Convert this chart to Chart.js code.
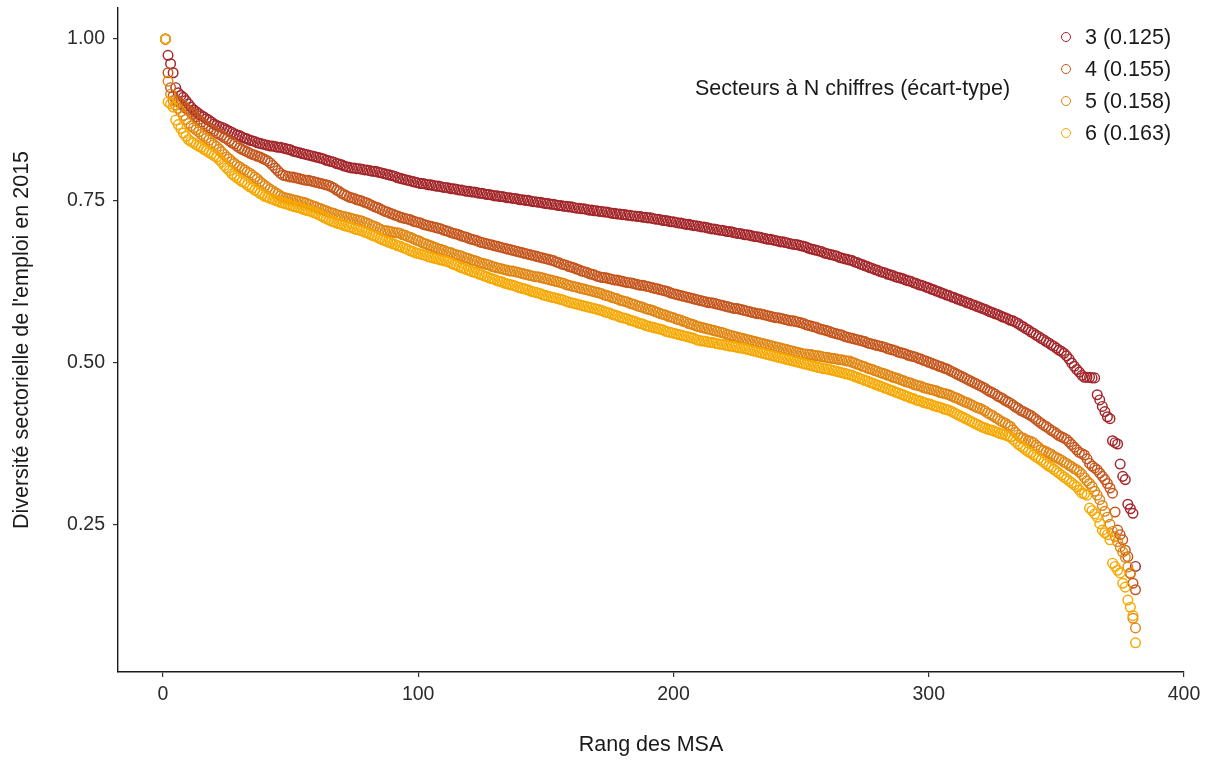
<!DOCTYPE html>
<html lang="fr">
<head>
<meta charset="utf-8">
<title>Diversité sectorielle de l'emploi</title>
<script src="https://cdn.jsdelivr.net/npm/chart.js@4.4.1/dist/chart.umd.min.js"></script>
<style>
  html, body { margin: 0; padding: 0; background: #fff; }
  #wrap { position: relative; width: 1214px; height: 760px; font-family: "Liberation Sans", Arial, sans-serif; }
  #legend-title { position: absolute; left: 695px; top: 76px; font-size: 21.5px; color: #1a1a1a; white-space: nowrap; }
  .leg { position: absolute; left: 1061px; height: 26px; line-height: 26px; font-size: 21.5px; color: #1a1a1a; white-space: nowrap; }
  .leg i { display: inline-block; width: 8px; height: 8px; border-radius: 50%; border: 1.4px solid; margin-right: 14px; vertical-align: 2px; }
</style>
</head>
<body>
<div id="wrap">
  <canvas id="scatterChart"></canvas>
  <div id="legend-title">Secteurs à N chiffres (écart-type)</div>
  <div id="legend"></div>
</div>
<script>
// series labels and colours (3 to 6 digit sectors)
const seriesLabels = ['3 (0.125)', '4 (0.155)', '5 (0.158)', '6 (0.163)'];
const seriesColors = ['#a3262a', '#c4561d', '#e08612', '#f7a800'];
const xTicks = [0, 100, 200, 300, 400];
const yTicks = [0.25, 0.50, 0.75, 1.00];

// diversity index by MSA rank (rank 1 first)
const s3 = [1.000,0.975,0.962,0.948,0.925,0.917,0.913,0.910,0.905,0.900,
0.895,0.891,0.888,0.885,0.882,0.880,0.877,0.875,0.872,0.869,
0.867,0.865,0.864,0.862,0.860,0.858,0.856,0.854,0.852,0.851,
0.849,0.847,0.846,0.844,0.843,0.842,0.840,0.839,0.838,0.837,
0.836,0.835,0.835,0.834,0.833,0.833,0.832,0.831,0.830,0.829,
0.827,0.826,0.825,0.824,0.823,0.822,0.821,0.820,0.819,0.818,
0.817,0.816,0.815,0.813,0.812,0.811,0.810,0.808,0.807,0.806,
0.804,0.803,0.802,0.801,0.801,0.800,0.800,0.799,0.798,0.798,
0.797,0.796,0.796,0.795,0.794,0.793,0.792,0.791,0.790,0.789,
0.788,0.786,0.785,0.784,0.783,0.782,0.781,0.780,0.779,0.778,
0.777,0.777,0.776,0.775,0.775,0.774,0.773,0.773,0.772,0.771,
0.771,0.770,0.769,0.769,0.768,0.767,0.767,0.766,0.765,0.765,
0.764,0.764,0.763,0.762,0.762,0.761,0.760,0.760,0.759,0.758,
0.758,0.757,0.757,0.756,0.755,0.755,0.754,0.754,0.753,0.752,
0.752,0.751,0.751,0.750,0.749,0.749,0.748,0.748,0.747,0.746,
0.746,0.745,0.745,0.744,0.743,0.743,0.742,0.742,0.741,0.741,
0.740,0.739,0.739,0.738,0.738,0.737,0.736,0.736,0.735,0.735,
0.734,0.734,0.733,0.733,0.732,0.731,0.731,0.730,0.730,0.729,
0.729,0.728,0.728,0.727,0.727,0.726,0.726,0.725,0.725,0.724,
0.724,0.723,0.722,0.722,0.721,0.720,0.720,0.719,0.718,0.718,
0.717,0.716,0.716,0.715,0.714,0.714,0.713,0.712,0.712,0.711,
0.710,0.710,0.709,0.708,0.707,0.707,0.706,0.705,0.705,0.704,
0.703,0.703,0.702,0.701,0.700,0.700,0.699,0.698,0.698,0.697,
0.696,0.695,0.695,0.694,0.693,0.692,0.691,0.691,0.690,0.689,
0.688,0.687,0.687,0.686,0.685,0.684,0.683,0.683,0.682,0.681,
0.680,0.679,0.677,0.676,0.675,0.674,0.673,0.672,0.670,0.669,
0.668,0.667,0.666,0.665,0.663,0.662,0.661,0.660,0.659,0.658,
0.656,0.655,0.653,0.652,0.650,0.649,0.647,0.646,0.644,0.643,
0.641,0.640,0.639,0.637,0.636,0.635,0.633,0.632,0.631,0.630,
0.628,0.627,0.626,0.624,0.623,0.621,0.620,0.619,0.617,0.616,
0.614,0.613,0.611,0.610,0.608,0.607,0.605,0.604,0.602,0.601,
0.599,0.598,0.596,0.595,0.593,0.592,0.590,0.589,0.587,0.586,
0.584,0.583,0.581,0.579,0.578,0.576,0.575,0.573,0.571,0.570,
0.568,0.566,0.565,0.563,0.561,0.558,0.556,0.553,0.551,0.548,
0.546,0.543,0.541,0.538,0.536,0.533,0.531,0.528,0.526,0.523,
0.520,0.518,0.515,0.511,0.506,0.500,0.495,0.490,0.486,0.481,
0.478,0.478,0.478,0.477,0.477,0.451,0.443,0.433,0.425,0.417,
0.414,0.380,0.377,0.375,0.344,0.325,0.320,0.282,0.275,0.268,
0.186];

const s4 = [1.000,0.948,0.925,0.912,0.906,0.903,0.900,0.897,0.893,0.890,
0.887,0.884,0.880,0.876,0.872,0.869,0.866,0.863,0.861,0.858,
0.855,0.853,0.851,0.848,0.846,0.843,0.840,0.838,0.835,0.832,
0.830,0.828,0.826,0.824,0.822,0.821,0.819,0.818,0.816,0.814,
0.812,0.809,0.805,0.801,0.797,0.793,0.790,0.789,0.788,0.787,
0.787,0.786,0.785,0.784,0.783,0.782,0.782,0.781,0.780,0.779,
0.778,0.777,0.776,0.775,0.774,0.772,0.770,0.767,0.765,0.762,
0.760,0.758,0.756,0.755,0.754,0.752,0.751,0.750,0.748,0.747,
0.745,0.743,0.741,0.740,0.738,0.736,0.734,0.733,0.731,0.730,
0.728,0.727,0.725,0.724,0.723,0.722,0.721,0.719,0.718,0.717,
0.716,0.714,0.713,0.712,0.711,0.710,0.709,0.708,0.707,0.705,
0.704,0.703,0.701,0.700,0.699,0.698,0.696,0.695,0.694,0.692,
0.691,0.690,0.689,0.687,0.686,0.685,0.684,0.683,0.682,0.681,
0.680,0.679,0.678,0.677,0.676,0.675,0.674,0.673,0.672,0.671,
0.670,0.669,0.668,0.667,0.666,0.665,0.664,0.663,0.662,0.661,
0.660,0.659,0.658,0.656,0.655,0.653,0.652,0.651,0.649,0.648,
0.647,0.645,0.644,0.642,0.641,0.640,0.638,0.637,0.636,0.634,
0.633,0.632,0.632,0.631,0.630,0.629,0.628,0.628,0.627,0.626,
0.625,0.624,0.624,0.623,0.622,0.621,0.620,0.620,0.619,0.618,
0.617,0.616,0.615,0.614,0.613,0.612,0.611,0.610,0.608,0.607,
0.606,0.605,0.604,0.603,0.602,0.601,0.600,0.599,0.598,0.597,
0.596,0.595,0.594,0.593,0.593,0.592,0.591,0.590,0.589,0.588,
0.587,0.586,0.585,0.584,0.584,0.583,0.582,0.581,0.580,0.579,
0.578,0.577,0.576,0.576,0.575,0.574,0.573,0.572,0.571,0.570,
0.570,0.569,0.568,0.567,0.566,0.565,0.565,0.564,0.563,0.562,
0.561,0.559,0.558,0.557,0.556,0.555,0.553,0.552,0.551,0.550,
0.549,0.547,0.546,0.545,0.544,0.543,0.541,0.540,0.539,0.538,
0.537,0.536,0.535,0.534,0.533,0.531,0.530,0.529,0.528,0.527,
0.526,0.525,0.524,0.522,0.521,0.520,0.519,0.517,0.516,0.515,
0.514,0.512,0.511,0.510,0.509,0.507,0.506,0.504,0.503,0.501,
0.500,0.498,0.497,0.495,0.494,0.492,0.491,0.489,0.487,0.485,
0.483,0.481,0.479,0.477,0.475,0.473,0.471,0.469,0.467,0.465,
0.463,0.461,0.458,0.456,0.454,0.452,0.449,0.447,0.445,0.442,
0.440,0.438,0.435,0.432,0.430,0.427,0.425,0.423,0.421,0.419,
0.416,0.413,0.410,0.407,0.404,0.402,0.399,0.396,0.394,0.391,
0.388,0.386,0.384,0.382,0.378,0.374,0.370,0.366,0.362,0.360,
0.358,0.352,0.345,0.341,0.338,0.335,0.330,0.325,0.320,0.314,
0.307,0.299,0.270,0.242,0.235,0.227,0.211,0.201,0.175,0.160,
0.150];

const s5 = [1.000,0.935,0.915,0.905,0.898,0.893,0.888,0.882,0.876,0.870,
0.866,0.863,0.860,0.857,0.853,0.850,0.847,0.844,0.840,0.837,
0.834,0.830,0.826,0.822,0.818,0.815,0.811,0.808,0.805,0.803,
0.800,0.798,0.795,0.793,0.790,0.787,0.784,0.780,0.777,0.774,
0.771,0.768,0.766,0.763,0.761,0.758,0.756,0.755,0.754,0.753,
0.752,0.751,0.750,0.749,0.748,0.747,0.745,0.744,0.742,0.741,
0.739,0.738,0.736,0.735,0.733,0.732,0.731,0.729,0.728,0.727,
0.726,0.725,0.724,0.723,0.722,0.721,0.720,0.719,0.717,0.716,
0.714,0.712,0.711,0.709,0.707,0.705,0.704,0.704,0.703,0.702,
0.701,0.701,0.700,0.698,0.697,0.695,0.694,0.692,0.690,0.689,
0.687,0.685,0.684,0.682,0.681,0.679,0.678,0.676,0.675,0.674,
0.672,0.671,0.670,0.668,0.667,0.666,0.665,0.663,0.662,0.661,
0.659,0.658,0.657,0.655,0.654,0.653,0.652,0.651,0.649,0.648,
0.647,0.646,0.645,0.644,0.643,0.642,0.642,0.641,0.640,0.639,
0.638,0.637,0.636,0.635,0.634,0.633,0.633,0.632,0.631,0.630,
0.629,0.628,0.627,0.626,0.625,0.624,0.623,0.621,0.620,0.619,
0.618,0.617,0.616,0.615,0.614,0.613,0.612,0.611,0.610,0.609,
0.608,0.607,0.605,0.604,0.603,0.601,0.600,0.599,0.597,0.596,
0.595,0.594,0.592,0.591,0.590,0.588,0.587,0.586,0.584,0.583,
0.582,0.581,0.579,0.578,0.576,0.575,0.574,0.572,0.571,0.570,
0.568,0.567,0.566,0.564,0.563,0.561,0.560,0.559,0.557,0.556,
0.555,0.554,0.553,0.552,0.551,0.550,0.549,0.548,0.547,0.546,
0.544,0.543,0.542,0.541,0.540,0.539,0.538,0.537,0.536,0.535,
0.534,0.533,0.532,0.531,0.530,0.529,0.528,0.527,0.526,0.525,
0.524,0.523,0.522,0.521,0.520,0.519,0.518,0.517,0.516,0.515,
0.514,0.514,0.513,0.513,0.512,0.511,0.511,0.510,0.509,0.509,
0.508,0.507,0.507,0.506,0.505,0.505,0.504,0.503,0.503,0.501,
0.500,0.498,0.497,0.495,0.494,0.492,0.491,0.490,0.488,0.487,
0.485,0.484,0.483,0.481,0.480,0.478,0.477,0.476,0.474,0.473,
0.471,0.470,0.469,0.467,0.466,0.465,0.464,0.462,0.461,0.460,
0.459,0.458,0.457,0.455,0.454,0.453,0.452,0.451,0.449,0.447,
0.446,0.444,0.442,0.440,0.439,0.437,0.435,0.433,0.431,0.430,
0.428,0.426,0.423,0.421,0.419,0.416,0.414,0.411,0.409,0.407,
0.404,0.402,0.397,0.393,0.389,0.385,0.384,0.382,0.380,0.379,
0.377,0.373,0.370,0.366,0.365,0.363,0.361,0.359,0.356,0.354,
0.352,0.350,0.347,0.345,0.342,0.340,0.337,0.335,0.332,0.328,
0.323,0.318,0.314,0.309,0.302,0.296,0.289,0.280,0.271,0.262,
0.251,0.240,0.232,0.224,0.216,0.208,0.200,0.185,0.176,0.106,
0.091];

const s6 = [1.000,0.903,0.900,0.895,0.875,0.868,0.862,0.855,0.850,0.845,
0.842,0.840,0.837,0.835,0.833,0.830,0.828,0.825,0.823,0.820,
0.818,0.814,0.810,0.805,0.801,0.797,0.792,0.789,0.786,0.783,
0.780,0.778,0.775,0.772,0.770,0.767,0.765,0.762,0.760,0.757,
0.756,0.754,0.753,0.751,0.750,0.748,0.747,0.746,0.745,0.743,
0.742,0.741,0.740,0.739,0.737,0.736,0.735,0.734,0.732,0.731,
0.729,0.727,0.725,0.723,0.721,0.719,0.718,0.716,0.715,0.714,
0.712,0.711,0.710,0.709,0.707,0.706,0.705,0.704,0.702,0.701,
0.699,0.697,0.696,0.694,0.692,0.690,0.689,0.687,0.686,0.684,
0.683,0.681,0.680,0.678,0.677,0.675,0.673,0.672,0.670,0.669,
0.668,0.667,0.666,0.664,0.663,0.662,0.661,0.660,0.659,0.658,
0.657,0.656,0.654,0.652,0.651,0.649,0.647,0.646,0.644,0.643,
0.641,0.640,0.639,0.637,0.636,0.634,0.633,0.631,0.630,0.629,
0.627,0.626,0.625,0.623,0.622,0.621,0.620,0.619,0.617,0.616,
0.615,0.614,0.613,0.611,0.610,0.609,0.608,0.607,0.605,0.604,
0.603,0.602,0.601,0.600,0.599,0.598,0.597,0.595,0.594,0.593,
0.592,0.591,0.590,0.589,0.588,0.587,0.586,0.585,0.584,0.583,
0.582,0.581,0.579,0.578,0.577,0.575,0.574,0.573,0.571,0.570,
0.569,0.568,0.566,0.565,0.564,0.562,0.561,0.560,0.558,0.557,
0.556,0.555,0.554,0.553,0.552,0.551,0.549,0.548,0.547,0.546,
0.545,0.544,0.543,0.542,0.541,0.540,0.539,0.538,0.536,0.535,
0.534,0.534,0.533,0.532,0.532,0.531,0.530,0.529,0.529,0.528,
0.527,0.526,0.526,0.525,0.524,0.523,0.523,0.522,0.521,0.520,
0.519,0.518,0.517,0.516,0.515,0.514,0.513,0.512,0.511,0.510,
0.509,0.508,0.507,0.506,0.505,0.504,0.503,0.502,0.501,0.500,
0.499,0.498,0.497,0.496,0.495,0.494,0.493,0.492,0.491,0.491,
0.490,0.489,0.488,0.487,0.486,0.485,0.484,0.483,0.482,0.481,
0.479,0.478,0.476,0.475,0.473,0.472,0.470,0.469,0.467,0.466,
0.464,0.463,0.461,0.460,0.458,0.457,0.455,0.454,0.452,0.451,
0.449,0.448,0.446,0.445,0.443,0.442,0.441,0.439,0.438,0.437,
0.436,0.434,0.433,0.432,0.431,0.429,0.428,0.427,0.425,0.423,
0.421,0.419,0.417,0.415,0.413,0.411,0.409,0.407,0.405,0.403,
0.401,0.400,0.398,0.397,0.396,0.394,0.393,0.391,0.390,0.389,
0.387,0.386,0.382,0.379,0.375,0.372,0.369,0.366,0.363,0.361,
0.358,0.355,0.353,0.350,0.347,0.344,0.341,0.339,0.336,0.333,
0.330,0.327,0.324,0.321,0.318,0.315,0.312,0.309,0.304,0.299,
0.298,0.296,0.276,0.272,0.267,0.262,0.252,0.242,0.238,0.235,
0.227,0.191,0.186,0.180,0.176,0.160,0.154,0.134,0.123,0.110,
0.068];

const seriesValues = [s3, s4, s5, s6];

// points are (rank, value), rank starting at 1
function toPoints(values) {
  return values.map((v, i) => ({ x: i + 1, y: v }));
}

const datasets = seriesValues.map((vals, k) => ({
  label: seriesLabels[k],
  data: toPoints(vals),
  borderColor: seriesColors[k],
  backgroundColor: 'rgba(0,0,0,0)',
  pointRadius: 4.8,
  pointBorderWidth: 1.45,
  pointHoverRadius: 4.8,
  // yellow (6 digits) drawn last, on top
  order: seriesValues.length - k
}));

const tickFont = { family: '"Liberation Sans", Arial, sans-serif', size: 19.5 };
const titleFont = { family: '"Liberation Sans", Arial, sans-serif', size: 21.5, lineHeight: 1.2 };

const ctx = document.getElementById('scatterChart').getContext('2d');
new Chart(ctx, {
  type: 'scatter',
  data: { datasets: datasets },
  options: {
    responsive: true,
    maintainAspectRatio: false,
    animation: false,
    layout: { padding: { top: 8, right: 30, left: 0, bottom: 0 } },
    plugins: {
      legend: { display: false },
      tooltip: { enabled: false }
    },
    scales: {
      x: {
        type: 'linear',
        min: -17.6,
        max: 400,
        afterBuildTicks: s => { s.ticks = xTicks.map(v => ({ value: v })); },
        afterFit: s => { s.height = 88; s.paddingLeft = 0; s.paddingRight = 0; },
        grid: { display: true, drawOnChartArea: false, drawTicks: true, tickLength: 5, color: '#333', lineWidth: 1.2 },
        border: { display: true, color: '#1a1a1a', width: 1.4 },
        ticks: { color: '#2b2b2b', font: tickFont, padding: 6, maxRotation: 0 },
        title: { display: true, text: 'Rang des MSA', color: '#1a1a1a', font: titleFont, padding: { top: 0, bottom: 2 } }
      },
      y: {
        type: 'linear',
        min: 0.023,
        max: 1.048,
        afterBuildTicks: s => { s.ticks = yTicks.map(v => ({ value: v })); },
        afterFit: s => { s.width = 118; s.paddingTop = 0; s.paddingBottom = 0; },
        grid: { display: true, drawOnChartArea: false, drawTicks: true, tickLength: 5, color: '#333', lineWidth: 1.2 },
        border: { display: true, color: '#1a1a1a', width: 1.4 },
        ticks: { color: '#2b2b2b', font: tickFont, padding: 8, callback: v => v.toFixed(2) },
        title: { display: true, text: "Diversité sectorielle de l'emploi en 2015", color: '#1a1a1a', font: titleFont, padding: { top: 9, bottom: 0 } }
      }
    }
  }
});

// legend: title on the left, one row per series on the right
const legend = document.getElementById('legend');
seriesLabels.forEach((lab, k) => {
  const row = document.createElement('div');
  row.className = 'leg';
  row.style.top = (24 + k * 32) + 'px';
  row.innerHTML = `<i style="border-color:${seriesColors[k]}"></i>${lab}`;
  legend.appendChild(row);
});
</script>
</body>
</html>
